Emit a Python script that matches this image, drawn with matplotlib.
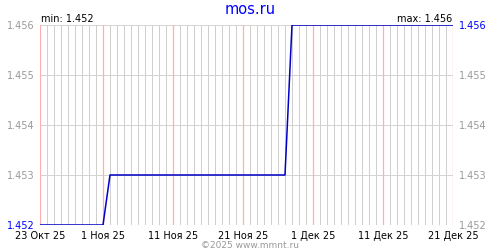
import pandas as pd
import matplotlib.pyplot as plt

# daily values, 23 Oct 2025 .. 21 Dec 2025
dates = pd.date_range('2025-10-23', '2025-12-21', freq='D')
values = [1.452] * 10 + [1.453] * 26 + [1.456] * 24  # written out by segment
tick_dates = ['2025-10-23', '2025-11-01', '2025-11-11', '2025-11-21',
              '2025-12-01', '2025-12-11', '2025-12-21']
tick_labels = ['23 Окт 25', '1 Ноя 25', '11 Ноя 25', '21 Ноя 25',
               '1 Дек 25', '11 Дек 25', '21 Дек 25']
y_ticks = [1.452, 1.453, 1.454, 1.455, 1.456]

if __name__ == '__main__':
    plt.rcParams['font.family'] = 'DejaVu Sans'
    plt.rcParams['font.size'] = 7

    fig = plt.figure(figsize=(5, 2.5), dpi=100)
    ax = fig.add_axes([0.08, 0.1, 0.826, 0.8])

    # grid: daily gray, 10-day pink
    px = 72 / fig.dpi
    for d in dates:
        ax.axvline(d, color='#cfcfcf', lw=px, zorder=0, snap=True)
    for d in pd.to_datetime(tick_dates):
        ax.axvline(d, color='#ffb0b0', lw=1.3 * px, zorder=1, snap=True)
    for y in y_ticks:
        ax.axhline(y, color='#d4d4d4', lw=px, zorder=0, snap=True)

    ax.plot(dates, values, color='#0000c8', lw=1.1, zorder=3)

    ax.set_xlim(dates[0], dates[-1])
    ax.set_ylim(1.452, 1.456)
    for s in ax.spines.values():
        s.set_visible(False)

    ax.set_xticks(pd.to_datetime(tick_dates), tick_labels)
    ax.tick_params(axis='x', length=0, pad=4, labelcolor='black')
    ax.set_yticks(y_ticks, [f'{v:.3f}' for v in y_ticks])
    ax.tick_params(axis='y', length=0, pad=4,
                   labelleft=True, labelright=True)

    # left labels gray with blue bottom, right labels gray with blue top
    ticks = ax.yaxis.get_major_ticks()
    for t in ticks:
        t.label1.set_color('#999999')
        t.label2.set_color('#999999')
    ticks[0].label1.set_color('#0000ff')
    ticks[-1].label2.set_color('#0000ff')

    fig.text(0.5, 0.962, 'mos.ru', color='#0000ff', fontsize=10.5,
             ha='center', va='center')
    fig.text(0.082, 0.925, f'min: {min(values):.3f}', ha='left', va='center')
    fig.text(0.904, 0.925, f'max: {max(values):.3f}', ha='right', va='center')
    fig.text(0.5, 0.016, '©2025 www.mmnt.ru', color='#999999', fontsize=6.5,
             ha='center', va='center')

    plt.savefig('out.png', dpi=100)
    plt.close()
